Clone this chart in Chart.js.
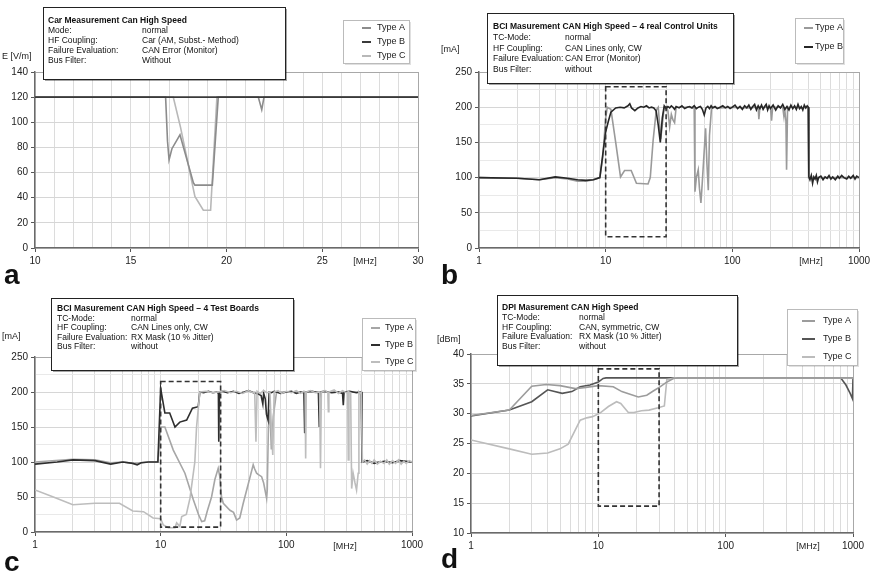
<!DOCTYPE html>
<html>
<head>
<meta charset="utf-8">
<script src="https://cdn.jsdelivr.net/npm/chart.js@4.4.1/dist/chart.umd.min.js"></script>
<style>
  html, body { margin: 0; padding: 0; background: #fff; width: 870px; height: 575px; overflow: hidden; }
  canvas { position: absolute; left: 0; top: 0; }
</style>
</head>
<body>
<canvas id="pa" width="900" height="600"></canvas>
<canvas id="pb" width="900" height="600"></canvas>
<canvas id="pc" width="900" height="600"></canvas>
<canvas id="pd" width="900" height="600"></canvas>
<script>
// ---------- shared ----------
const FONT = "'Liberation Sans', Arial, Helvetica, sans-serif";
const seriesNames = ['Type A', 'Type B', 'Type C'];
const logTickLabels = [1, 10, 100, 1000];
const linTickLabelsA = [10, 15, 20, 25, 30];

// ---------- a: car measurement, E [V/m] over 10..30 MHz ----------
const aTypeA = [[10,120],[16.82,120],[16.92,85],[17.0,70],[17.15,79],[17.57,90],[18.27,52],[18.35,50],[19.26,50],[19.57,120],
                [21.66,120],[21.84,110],[21.96,120],[30,120]];
const aTypeB = [[10,120],[30,120]];
const aTypeC = [[10,120],[17.22,120],[17.6,96],[18.35,41],[18.79,30],[19.17,30],[19.5,120],[30,120]];

// ---------- b: BCI, 4 real control units, [mA] ----------
const bTypeA = [[1,100],[2,99],[3,97],[4,100],[5,98],[6,95],[7,95],[8,97],[9,100],[9.5,130],[10,185],[10.3,200],[11,197],
  [12,150],[13.1,101],[14.1,110],[15.9,110],[17.5,92],[21.6,91],[22.5,100],[23.7,153],[25.1,196],[26,200],[27.2,155],
  [29,200],[30,201],[31,195],[32,172],[33,190],[34,182],[35,178],[36,200],[45,200],[50,199],[50.7,80],[52,100],
  [53.8,111],[55,85],[56.5,64],[58,95],[61.5,170],[63,120],[64.6,82],[66,160],[68.6,200],[80,199],[100,200],[130,199],
  [160,200],[162,183],[165,200],[200,200],[204,181],[208,200],[250,200],[255,188],[258,200],[265,180],[268,111],
  [273,200],[300,200],[350,199],[396,200],[400,100],[500,100],[700,100],[1000,100]];
const bTypeB = [[1,100],[2,99],[3,97],[4,101],[5,99],[6,97],[7,96],[8,97],[9,100],[9.6,140],[10,165],[10.5,180],[11,193],
  [12,199],[13,200],[14,199],[15,202],[15.5,205],[16,199],[17,195],[18,199],[19,201],[20,200],[21,202],[22,199],
  [23,200],[24,199],[25,195],[26,175],[27,150],[28,185],[29,202],[30,198],[31,201],[32,199],[33,202],[34,200],
  [35,197],[36,201],[38,199],[40,202],[42,198],[44,200],[46,201],[48,199],[50,202],[52,198],[54,200],[56,201],
  [58,197],[60,189],[62,199],[64,201],[66,198],[68,202],[70,199],[73,201],[76,198],[80,200],[84,202],[88,199],
  [92,201],[96,198],[100,200],[105,203],[110,198],[115,201],[120,197],[125,202],[130,199],[135,203],[140,197],
  [145,201],[150,204],[155,196],[160,202],[165,198],[170,203],[175,197],[180,201],[185,204],[190,196],[195,202],
  [200,198],[210,203],[220,196],[230,202],[240,199],[250,204],[260,197],[270,201],[280,196],[290,203],[300,198],
  [310,202],[320,197],[330,204],[340,198],[350,201],[360,196],[370,203],[380,199],[390,202],[398,200],[402,101],
  [410,97],[420,103],[430,92],[440,101],[450,98],[460,103],[470,94],[480,100],[500,102],[520,97],[540,101],[560,99],
  [580,103],[600,98],[620,101],[650,97],[680,102],[700,99],[730,103],[760,100],[800,98],[830,102],[860,99],[900,103],
  [930,98],[960,102],[1000,100]];

// ---------- c: BCI, 4 test boards, [mA] ----------
const cTypeA = [[1,100],[2,104],[3,103],[4,99],[5,100],[6,98],[7,99],[8,100],[9.5,100],[10,150],[10.8,150],[12.6,117],
  [15.6,84],[18.2,46],[20,25],[21.2,15],[22.4,16],[23.5,30],[25.4,50],[27,75],[28.7,91],[29.5,80],[30.5,50],[31.5,41],
  [35.6,31],[38,28],[40.2,17],[42.6,20],[45.4,41],[50,70],[54.5,96],[56,90],[58,84],[60,82],[63.6,79],[66,70],
  [69.7,48],[70.5,60],[72,150],[74,175],[76,118],[78.7,165],[83.6,200],[150,200],[250,200],[395,200],[400,100],
  [1000,100]];
const cTypeB = [[1,97],[1.5,100],[2,103],[3,102],[4,97],[5,100],[6,98],[6.5,96],[7,99],[8,100],[9.5,100],[10,205],
  [10.8,170],[11.8,170],[13,150],[14.2,157],[16.1,160],[17.9,177],[19.9,179],[20.5,200],[22,199],[24,201],[26,199],
  [28,200],[28.8,198],[29,129],[29.3,200],[31,201],[34,199],[38,201],[42,198],[46,200],[50,202],[55,199],[60,197],
  [63,195],[65,183],[66,198],[68,190],[69.5,168],[71.5,160],[73,200],[76,199],[80,201],[90,198],[100,200],[110,201],
  [120,198],[130,200],[138,199],[140,141],[142,200],[160,201],[180,199],[183,150],[186,200],[200,201],[230,199],
  [260,200],[280,198],[284,181],[288,200],[320,201],[360,199],[395,200],[400,100],[440,102],[500,98],[600,101],
  [700,99],[800,102],[1000,100]];
const cTypeC = [[1,60],[1.4,50],[2,39],[3,41],[4.7,41],[6,30],[7.3,29],[8.7,20],[10,19],[10.5,10],[11.5,6],[13,6],
  [13.4,13],[14.2,8],[14.7,22],[16,25],[17.1,48],[18.7,100],[19.3,150],[20.5,200],[23,201],[26,199],[29,200],[32,202],
  [36,199],[40,201],[45,198],[50,202],[54,199],[56,200],[57.3,129],[58.5,201],[62,198],[66,202],[70,199],[74,200],
  [76,150],[78,110],[80,200],[86,202],[92,198],[100,201],[110,199],[120,202],[130,198],[138,201],[141,200],[142.5,105],
  [144,200],[155,202],[170,199],[184,200],[187,91],[190,200],[205,202],[214,199],[216,172],[218,200],[240,203],
  [260,198],[280,202],[300,199],[308,200],[311,103],[315,200],[325,199],[331,62],[340,84],[352,70],[362,60],[373,84],
  [378,200],[385,198],[395,200],[403,100],[420,103],[440,97],[460,102],[480,98],[500,103],[530,97],[560,101],[600,98],
  [630,103],[660,97],[700,102],[740,98],[780,103],[820,97],[860,101],[900,98],[950,102],[1000,100]];

// ---------- d: DPI, [dBm] ----------
const dTypeA = [[1,29.7],[2,30.6],[3,34.6],[3.9,34.9],[5,34.7],[6.6,34.2],[8,34.4],[10,34.7],[13.1,34.5],[15.3,33.7],
  [17.5,33.3],[20.6,32.8],[24,33.1],[27,33.8],[30.5,34.5],[34,35.2],[38.8,35.9],[42,36],[1000,36]];
const dTypeB = [[1,29.6],[2,30.6],[3,32],[4,34],[5.2,33.4],[6.2,33.7],[7.2,34.5],[8.6,34.8],[10,35.3],[10.9,35.9],
  [11.5,36],[800,36],[880,34.8],[950,33.4],[990,32.5],[1000,36]];
const dTypeC = [[1,25.6],[2,24.1],[3,23.2],[4,23.4],[5,24.1],[5.8,24.9],[7.2,28.9],[8.1,29.3],[9,29.5],[10.3,30.1],
  [12,31.2],[13.9,32],[15,31.7],[17.2,30.2],[19,30.2],[21.8,30.5],[25,30.6],[29.5,31],[33,31.3],[34.5,35.7],[40,36],
  [1000,36]];

// frames drawn as dashed boxes: [x from, x to] and [y from, y to]
const frameB = { x: [10, 30], y: [16, 229] };
const frameC = { x: [10, 30], y: [7, 215] };
const frameD = { x: [10, 30], y: [14.5, 37.5] };

// info box texts
const infoA = ['Car Measurement Can High Speed', ['Mode:', 'normal'], ['HF Coupling:', 'Car (AM, Subst.- Method)'],
  ['Failure Evaluation:', 'CAN Error (Monitor)'], ['Bus Filter:', 'Without']];
const infoB = ['BCI Masurement CAN High Speed \u2013 4 real Control Units', ['TC-Mode:', 'normal'],
  ['HF Coupling:', 'CAN Lines only, CW'], ['Failure Evaluation:', 'CAN Error (Monitor)'], ['Bus Filter:', 'without']];
const infoC = ['BCI Masurement CAN High Speed \u2013 4 Test Boards', ['TC-Mode:', 'normal'],
  ['HF Coupling:', 'CAN Lines only, CW'], ['Failure Evaluation:', 'RX Mask (10 % Jitter)'], ['Bus Filter:', 'without']];
const infoD = ['DPI Masurement CAN High Speed', ['TC-Mode:', 'normal'], ['HF Coupling:', 'CAN, symmetric, CW'],
  ['Failure Evaluation:', 'RX Mask (10 % Jitter)'], ['Bus Filter:', 'without']];

// ---------- layout helpers ----------
const CW = 900, CH = 600, YW = 34, XH = 28;

// grid positions on a log axis: 1..9, 10..90, 100..1000
const logGrid = [];
[1, 10, 100].forEach(m => { for (let d = 1; d < 10; d++) logGrid.push(d * m); });
logGrid.push(1000);

const decor = {};

function drawInfo(ctx, b, info) {
  ctx.save();
  ctx.fillStyle = 'rgba(0,0,0,0.35)';
  ctx.fillRect(b.x + 2, b.y + 2, b.w, b.h);
  ctx.fillStyle = '#fff';
  ctx.fillRect(b.x, b.y, b.w, b.h);
  ctx.strokeStyle = '#222';
  ctx.lineWidth = 1;
  ctx.strokeRect(b.x + 0.5, b.y + 0.5, b.w, b.h);
  ctx.fillStyle = '#111';
  ctx.textBaseline = 'middle';
  ctx.textAlign = 'left';
  ctx.font = 'bold 8.5px ' + FONT;
  ctx.fillText(info[0], b.x + b.pad, b.y + b.first);
  ctx.font = '8.5px ' + FONT;
  for (let i = 1; i < info.length; i++) {
    const y = b.y + b.first + b.lh * i;
    ctx.fillText(info[i][0], b.x + b.pad, y);
    ctx.fillText(info[i][1], b.x + b.col, y);
  }
  ctx.restore();
}

function drawLegend(ctx, chart, g) {
  ctx.save();
  ctx.fillStyle = 'rgba(0,0,0,0.12)';
  ctx.fillRect(g.x + 2, g.y + 2, g.w, g.h);
  ctx.fillStyle = '#fff';
  ctx.fillRect(g.x, g.y, g.w, g.h);
  ctx.strokeStyle = '#bbb';
  ctx.lineWidth = 1;
  ctx.strokeRect(g.x + 0.5, g.y + 0.5, g.w, g.h);
  ctx.font = '9px ' + FONT;
  ctx.textBaseline = 'middle';
  chart.data.datasets.forEach((ds, i) => {
    const y = g.y + g.first + g.lh * i;
    ctx.strokeStyle = ds.borderColor;
    ctx.lineWidth = 2;
    ctx.beginPath();
    ctx.moveTo(g.x + g.s1, y);
    ctx.lineTo(g.x + g.s2, y);
    ctx.stroke();
    ctx.fillStyle = '#222';
    ctx.fillText(ds.label, g.x + g.tx, y);
  });
  ctx.restore();
}

const decorPlugin = {
  id: 'panelDecor',
  afterDatasetsDraw(chart) {
    const o = decor[chart.canvas.id];
    if (!o || !o.frame) return;
    const sx = chart.scales.x, sy = chart.scales.y, ctx = chart.ctx;
    const l = sx.getPixelForValue(o.frame.x[0]), r = sx.getPixelForValue(o.frame.x[1]);
    const t = sy.getPixelForValue(o.frame.y[1]), btm = sy.getPixelForValue(o.frame.y[0]);
    ctx.save();
    ctx.setLineDash([5, 3]);
    ctx.lineWidth = 1.6;
    ctx.strokeStyle = '#333';
    ctx.strokeRect(l, t, r - l, btm - t);
    ctx.restore();
  },
  afterDraw(chart) {
    const o = decor[chart.canvas.id];
    if (!o) return;
    const ctx = chart.ctx;
    drawInfo(ctx, o.infoBox, o.info);
    drawLegend(ctx, chart, o.legend);
    ctx.save();
    ctx.fillStyle = '#222';
    ctx.textBaseline = 'middle';
    ctx.font = '9px ' + FONT;
    ctx.textAlign = 'left';
    ctx.fillText(o.unit.text, o.unit.x, o.unit.y);
    ctx.textAlign = 'center';
    ctx.fillText('[MHz]', o.mhz.x, o.mhz.y);
    ctx.textAlign = 'left';
    ctx.textBaseline = 'alphabetic';
    ctx.font = 'bold 28px ' + FONT;
    ctx.fillStyle = '#111';
    ctx.fillText(o.letter.text, o.letter.x, o.letter.y);
    ctx.restore();
  }
};

function xScale(p) {
  const common = {
    afterFit: s => { s.height = XH; },
    border: { display: true, color: '#6a6a6a', width: 1.5 },
    ticks: { autoSkip: false, maxRotation: 0, padding: 3, color: '#222', font: { family: FONT, size: 10 } }
  };
  if (p.log) {
    return Object.assign(common, {
      type: 'logarithmic', min: 1, max: 1000,
      afterBuildTicks: s => { s.ticks = logGrid.map(v => ({ value: v })); },
      ticks: Object.assign(common.ticks, { callback: v => logTickLabels.includes(v) ? String(v) : '' }),
      grid: {
        lineWidth: 1, tickLength: 4,
        color: c => c.tick && c.tick.value === 1000 ? '#a8a8a8' : '#dcdcdc',
        tickColor: c => c.tick && logTickLabels.includes(c.tick.value) ? '#555' : 'rgba(0,0,0,0)'
      }
    });
  }
  return Object.assign(common, {
    type: 'linear', min: 10, max: 30,
    ticks: Object.assign(common.ticks, { stepSize: 1, callback: v => linTickLabelsA.includes(v) ? String(v) : '' }),
    grid: {
      lineWidth: 1, tickLength: 4,
      color: c => c.tick && c.tick.value === 30 ? '#a8a8a8' : '#dcdcdc',
      tickColor: c => c.tick && linTickLabelsA.includes(c.tick.value) ? '#555' : 'rgba(0,0,0,0)'
    }
  });
}

function yScale(p) {
  return {
    type: 'linear', min: p.yMin, max: p.yMax,
    afterFit: s => { s.width = YW; },
    border: { display: true, color: '#6a6a6a', width: 1.5 },
    ticks: {
      stepSize: p.yStep, padding: 3, color: '#222', font: { family: FONT, size: 10 },
      callback: v => (v - p.yMin) % p.yLabelStep === 0 ? String(v) : ''
    },
    grid: {
      lineWidth: 1, tickLength: 4,
      color: c => {
        if (!c.tick) return '#dcdcdc';
        if (c.tick.value === p.yMax) return '#a8a8a8';
        return (c.tick.value - p.yMin) % p.yLabelStep === 0 ? '#d6d6d6' : '#e9e9e9';
      },
      tickColor: c => c.tick && (c.tick.value - p.yMin) % p.yLabelStep === 0 ? '#555' : 'rgba(0,0,0,0)'
    }
  };
}

function panel(id, p) {
  decor[id] = p.decor;
  return new Chart(document.getElementById(id), {
    type: 'line',
    data: {
      datasets: p.series.map(s => ({
        label: s.label,
        data: s.points.map(([x, y]) => ({ x, y })),
        borderColor: s.color,
        borderWidth: s.width || 1.6,
        pointRadius: 0,
        tension: 0,
        fill: false,
        order: s.order
      }))
    },
    options: {
      responsive: false,
      animation: false,
      events: [],
      layout: { padding: { left: p.area.left - YW, right: CW - p.area.right, top: p.area.top, bottom: CH - p.area.bottom - XH } },
      plugins: { legend: { display: false }, tooltip: { enabled: false } },
      scales: { x: xScale(p), y: yScale(p) }
    },
    plugins: [decorPlugin]
  });
}

// ---------- a ----------
panel('pa', {
  log: false, yMin: 0, yMax: 140, yStep: 20, yLabelStep: 20,
  area: { left: 35, right: 418, top: 72, bottom: 248 },
  series: [
    { label: seriesNames[0], points: aTypeA, color: '#8c8c8c', order: 1 },
    { label: seriesNames[1], points: aTypeB, color: '#3a3a3a', order: 0 },
    { label: seriesNames[2], points: aTypeC, color: '#b8b8b8', order: 2 }
  ],
  decor: {
    info: infoA,
    infoBox: { x: 43, y: 7, w: 242, h: 72, pad: 5, col: 99, first: 14, lh: 9.8 },
    legend: { x: 343, y: 20, w: 66, h: 43, first: 8, lh: 14, s1: 19, s2: 28, tx: 34 },
    unit: { text: 'E [V/m]', x: 2, y: 57 },
    mhz: { x: 365, y: 262 },
    letter: { text: 'a', x: 4, y: 284 }
  }
});

// ---------- b ----------
panel('pb', {
  log: true, yMin: 0, yMax: 250, yStep: 25, yLabelStep: 50,
  area: { left: 479, right: 859, top: 72, bottom: 248 },
  series: [
    { label: seriesNames[0], points: bTypeA, color: '#9a9a9a', order: 1 },
    { label: seriesNames[1], points: bTypeB, color: '#262626', order: 0 }
  ],
  decor: {
    info: infoB,
    infoBox: { x: 487, y: 13, w: 246, h: 70, pad: 6, col: 78, first: 14, lh: 10.6 },
    legend: { x: 795, y: 18, w: 48, h: 45, first: 10, lh: 19, s1: 9, s2: 18, tx: 20 },
    unit: { text: '[mA]', x: 441, y: 50 },
    mhz: { x: 811, y: 262 },
    letter: { text: 'b', x: 441, y: 284 },
    frame: frameB
  }
});

// ---------- c ----------
panel('pc', {
  log: true, yMin: 0, yMax: 250, yStep: 25, yLabelStep: 50,
  area: { left: 35, right: 412, top: 357, bottom: 532 },
  series: [
    { label: seriesNames[0], points: cTypeA, color: '#a6a6a6', order: 2 },
    { label: seriesNames[1], points: cTypeB, color: '#2e2e2e', order: 1 },
    { label: seriesNames[2], points: cTypeC, color: '#bdbdbd', order: 0 }
  ],
  decor: {
    info: infoC,
    infoBox: { x: 51, y: 298, w: 242, h: 72, pad: 6, col: 80, first: 11, lh: 9.5 },
    legend: { x: 362, y: 318, w: 53, h: 52, first: 10, lh: 17, s1: 9, s2: 18, tx: 23 },
    unit: { text: '[mA]', x: 2, y: 337 },
    mhz: { x: 345, y: 547 },
    letter: { text: 'c', x: 4, y: 571 },
    frame: frameC
  }
});

// ---------- d ----------
panel('pd', {
  log: true, yMin: 10, yMax: 40, yStep: 5, yLabelStep: 5,
  area: { left: 471, right: 853, top: 354, bottom: 533 },
  series: [
    { label: seriesNames[0], points: dTypeA, color: '#9c9c9c', order: 0 },
    { label: seriesNames[1], points: dTypeB, color: '#555555', order: 2 },
    { label: seriesNames[2], points: dTypeC, color: '#bcbcbc', order: 1 }
  ],
  decor: {
    info: infoD,
    infoBox: { x: 497, y: 295, w: 240, h: 70, pad: 5, col: 82, first: 13, lh: 9.7 },
    legend: { x: 787, y: 309, w: 70, h: 56, first: 12, lh: 18, s1: 15, s2: 28, tx: 36 },
    unit: { text: '[dBm]', x: 437, y: 340 },
    mhz: { x: 808, y: 547 },
    letter: { text: 'd', x: 441, y: 568 },
    frame: frameD
  }
});
</script>
</body>
</html>
